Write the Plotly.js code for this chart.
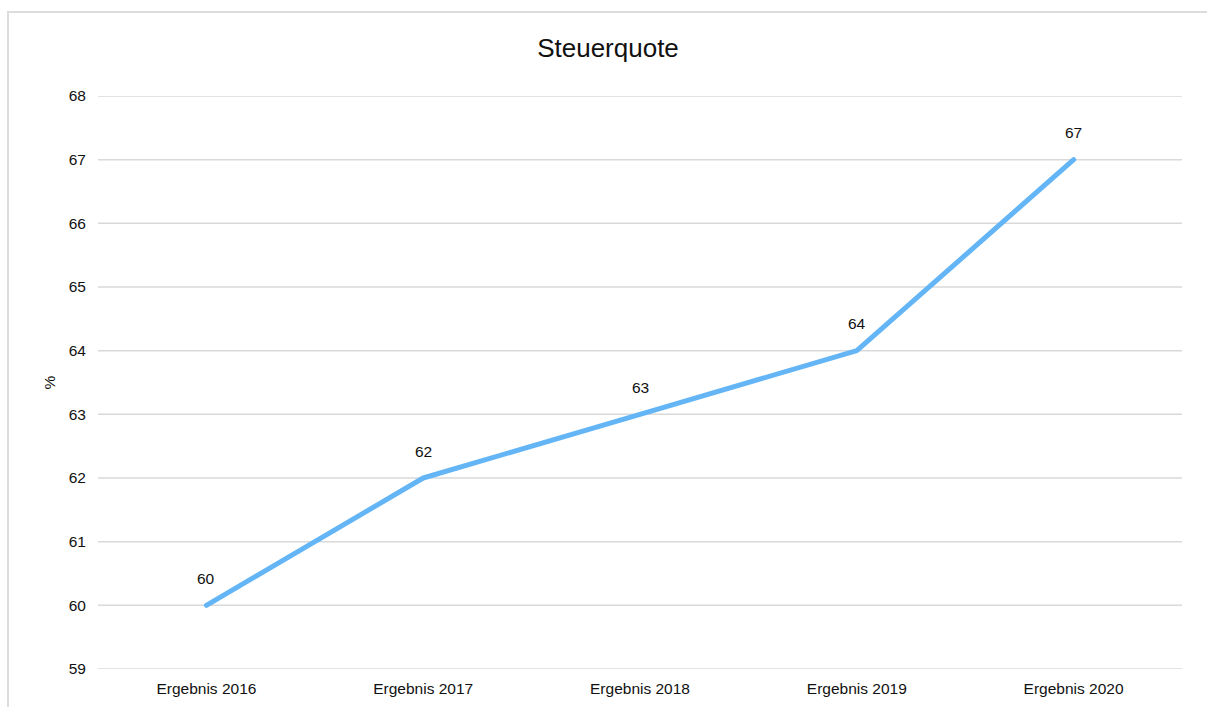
<!DOCTYPE html>
<html>
<head>
<meta charset="utf-8">
<script src="https://cdn.plot.ly/plotly-3.0.1.min.js"></script>
<style>
html,body{margin:0;padding:0;background:#fff;}
#wrap{position:absolute;left:0;top:0;width:1207px;height:707px;}
#frame{position:absolute;left:7px;top:11px;width:1200px;height:696px;border-top:2px solid #dcdcdc;border-left:2px solid #dcdcdc;pointer-events:none;}
#chart{position:absolute;left:0;top:0;width:1207px;height:707px;}
#chart .scatterlayer path.js-line{stroke-linecap:round;stroke-linejoin:round;}
</style>
</head>
<body>
<div id="wrap">
<div id="chart"></div>
<div id="frame"></div>
</div>
<script>
const categories = ["Ergebnis 2016","Ergebnis 2017","Ergebnis 2018","Ergebnis 2019","Ergebnis 2020"];
const steuerquote = [60, 62, 63, 64, 67];
const yTicks = [59,60,61,62,63,64,65,66,67,68];

const font = "Liberation Sans, Arial, Helvetica, sans-serif";

const trace = {
  x: categories,
  y: steuerquote,
  type: "scatter",
  mode: "lines",
  line: {color: "#64b5f6", width: 5},
  hoverinfo: "x+y",
  cliponaxis: false
};

const annotations = categories.map((c, i) => ({
  x: c, y: steuerquote[i], xref: "x", yref: "y",
  text: String(steuerquote[i]), showarrow: false,
  yshift: 27, font: {family: font, size: 15.5, color: "#111"}
}));

const gridShapes = yTicks.map(v => ({
  type: "line", xref: "paper", yref: "y", x0: 0, x1: 1, y0: v, y1: v,
  line: {color: "#d9d9d9", width: 1.5}, layer: "below"
}));

const layout = {
  width: 1207, height: 707,
  margin: {l: 98, r: 25, t: 96, b: 38, pad: 0},
  paper_bgcolor: "#fff", plot_bgcolor: "#fff",
  showlegend: false,
  title: {text: "Steuerquote", font: {family: font, size: 26, color: "#111"},
          x: 608/1207, xref: "container", xanchor: "center", y: 1 - 48/707, yref: "container", yanchor: "middle"},
  xaxis: {
    type: "category", range: [-0.5, 4.5],
    showgrid: false, zeroline: false, showline: false, ticks: "",
    tickfont: {family: font, size: 15.5, color: "#111"},
    ticklabelstandoff: 8
  },
  yaxis: {
    range: [59, 68], tickvals: yTicks, ticktext: yTicks.map(String),
    showgrid: false, zeroline: false, showline: false, ticks: "",
    tickfont: {family: font, size: 15.5, color: "#111"},
    ticklabelstandoff: 11,
    title: {text: "%", font: {family: font, size: 15.5, color: "#111"}, standoff: 9}
  },
  shapes: gridShapes,
  annotations: annotations
};

Plotly.newPlot("chart", [trace], layout, {displayModeBar: false, staticPlot: true});
</script>
</body>
</html>
